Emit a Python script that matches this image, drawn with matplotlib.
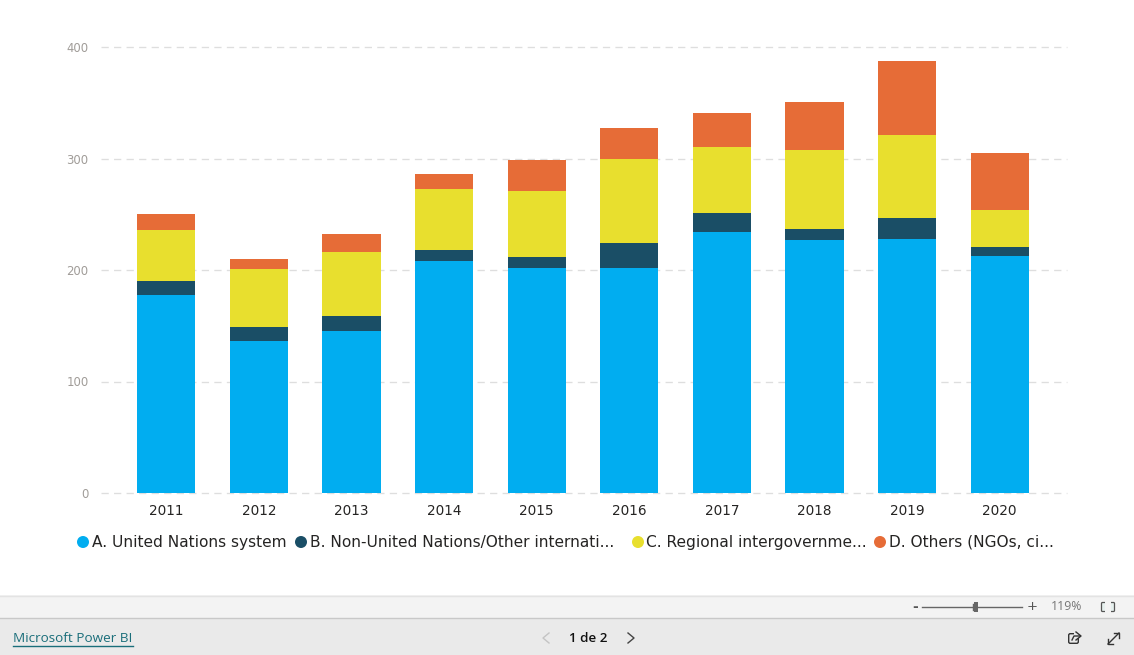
import matplotlib
matplotlib.use("Agg")
import matplotlib.pyplot as plt
from matplotlib.patches import Rectangle, Circle, FancyBboxPatch
from matplotlib.lines import Line2D

years = ["2011","2012","2013","2014","2015","2016","2017","2018","2019","2020"]
un_system = [178,136.5,145.5,208,202,202,234,227,228,213]
non_un = [12,12.5,13.5,10,10,22,17,10,19,8]
regional = [46,52,57,55,59,76,59,71,74,33]
others = [14,9,16,13,28,27,31,43,66,51]
series = [un_system, non_un, regional, others]
colors = ["#01ADF0", "#1A4E66", "#E8DF2E", "#E66C37"]
legend_labels = ["A. United Nations system", "B. Non-United Nations/Other internati...",
                 "C. Regional intergovernme...", "D. Others (NGOs, ci..."]
legend_dot_x = [83, 301, 638, 880]
legend_text_x = [92, 310, 646, 889]
y_ticks = [0,100,200,300,400]

W, H = 1134, 655
fig = plt.figure(figsize=(W/100, H/100), dpi=100, facecolor="white")
L, R, T, B = 101, 1067, 47, 493
ax = fig.add_axes([L/W, 1-B/H, (R-L)/W, (B-T)/H])
ax.set_xlim((L-166.3)/92.6, (R-166.3)/92.6)
ax.set_ylim(0, 400)
ax.set_axisbelow(True)
ax.grid(axis="y", color="#DEDEDE", linestyle=(0,(5.5,4)), linewidth=0.95)
ax.tick_params(length=0)
for s in ax.spines.values():
    s.set_visible(False)
xs = list(range(len(years)))
bottom = [0]*len(years)
for vals, c in zip(series, colors):
    ax.bar(xs, vals, width=0.63, bottom=bottom, color=c, linewidth=0)
    bottom = [b+v for b, v in zip(bottom, vals)]
ax.set_xticks(xs, years, fontsize=9.8, color="#252423", family="DejaVu Sans")
ax.set_yticks(y_ticks, [str(v) for v in y_ticks], fontsize=8.4, color="#A09C98", family="DejaVu Sans")
ax.tick_params(axis="x", pad=8)
ax.tick_params(axis="y", pad=9)
for gl in ax.get_ygridlines():
    gl.set_clip_on(False)

# overlay in pixel coordinates
ov = fig.add_axes([0, 0, 1, 1], facecolor="none")
ov.set_xlim(0, W); ov.set_ylim(H, 0); ov.axis("off")

for dx, tx, lab, c in zip(legend_dot_x, legend_text_x, legend_labels, colors):
    ov.add_patch(Circle((dx, 542), 6, color=c, lw=0))
    ov.text(tx, 542, lab, fontsize=11.1, color="#252423", va="center", ha="left", family="DejaVu Sans")

# footer bars
ov.add_patch(Rectangle((0, 595), W, 23, fc="#F3F3F3", ec="none"))
ov.add_patch(Rectangle((0, 618), W, 37, fc="#EAEAEA", ec="none"))
ov.add_line(Line2D([0, W], [595.5, 595.5], color="#E3E3E3", lw=1))
ov.add_line(Line2D([0, W], [618, 618], color="#C8C8C8", lw=1))

ov.text(13, 639, "Microsoft Power BI", fontsize=9.7, color="#1A6E7A", va="center", ha="left", family="Open Sans")
ov.add_line(Line2D([13, 133], [646, 646], color="#1A6E7A", lw=1))
ov.text(588, 638, "1 de 2", fontsize=9.6, color="#111111", va="center", ha="center", family="Open Sans", fontweight="semibold")
ov.add_line(Line2D([549, 543, 549], [633, 638, 643], color="#C4C4C4", lw=1))
ov.add_line(Line2D([628, 634, 628], [633, 638, 643], color="#444444", lw=1))

# zoom control
ov.text(915, 607, "-", fontsize=10, color="#555555", va="center", ha="center", fontweight="bold")
ov.add_line(Line2D([922, 1022], [607, 607], color="#666666", lw=1))
ov.add_patch(Rectangle((974, 602), 4, 10, fc="#666666", ec="none"))
ov.add_line(Line2D([973, 973], [604, 610], color="#666666", lw=1))
ov.text(1032, 606.5, "+", fontsize=9.5, color="#555555", va="center", ha="center")
ov.text(1067, 607, "119%", fontsize=8.8, color="#777777", va="center", ha="center", family="Open Sans")
ov.add_patch(FancyBboxPatch((1102, 603), 12, 8, boxstyle="round,pad=0.5,rounding_size=1", fc="#E6F0EE", ec="#555555", lw=0.9))
ov.add_patch(Rectangle((1105, 601), 6, 12, fc="#F3F3F3", ec="none", zorder=3))

# share icon
ov.add_patch(FancyBboxPatch((1069, 634), 9, 9, boxstyle="round,pad=0.3,rounding_size=1.5", fc="none", ec="#333333", lw=1))
ov.add_patch(Rectangle((1074, 631), 7, 7, fc="#EAEAEA", ec="none"))
ov.add_line(Line2D([1072, 1074, 1080], [640, 636, 636], color="#333333", lw=1))
ov.add_line(Line2D([1076, 1081, 1076], [632, 636, 640], color="#333333", lw=1))
# expand icon
ov.add_line(Line2D([1108, 1119], [644, 633], color="#333333", lw=1))
ov.add_line(Line2D([1108, 1108, 1113], [639, 644, 644], color="#333333", lw=1))
ov.add_line(Line2D([1114, 1119, 1119], [633, 633, 638], color="#333333", lw=1))

fig.savefig("out.png", dpi=100)
